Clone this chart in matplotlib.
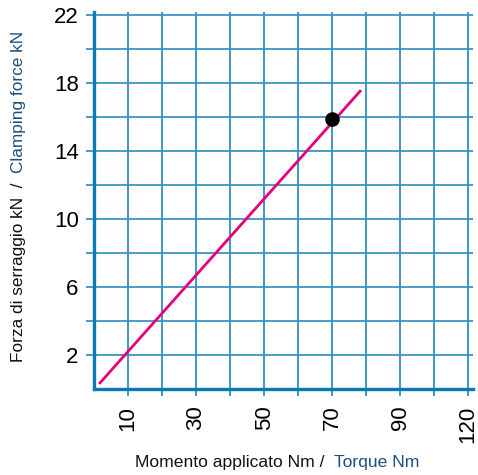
import numpy as np
import matplotlib
matplotlib.use("Agg")
import matplotlib.pyplot as plt
from matplotlib.ticker import FixedLocator

# data
line_torque = [1.5, 78.5]
line_force = [0.3, 17.6]
point_torque = [70]
point_force = [15.9]

x_tick_pos = [10, 30, 50, 70, 90, 110]
x_tick_lbl = ["10", "30", "50", "70", "90", "120"]
y_ticks = [2, 6, 10, 14, 18, 22]

BLUE = "#0a7ab5"
GRID_H = "#3d93c4"
MAGENTA = "#e5007d"
DARKBLUE = "#1d4f7c"

plt.rcParams["font.family"] = ["Liberation Sans", "DejaVu Sans"]

fig = plt.figure(figsize=(4.78, 4.75), dpi=100)
ax = fig.add_axes([94 / 478, 1 - 389 / 475, 379 / 478, 377 / 475])
ax.set_xlim(0, 111.4)
ax.set_ylim(0, 22.2)

# grid
ax.xaxis.set_major_locator(FixedLocator(x_tick_pos))
ax.xaxis.set_minor_locator(FixedLocator([20, 40, 60, 80, 100]))
ax.yaxis.set_major_locator(FixedLocator(y_ticks))
ax.yaxis.set_minor_locator(FixedLocator([4, 8, 12, 16, 20]))
ax.grid(True, which="both", axis="x", color=BLUE, lw=1.1)
ax.grid(True, which="both", axis="y", color=GRID_H, lw=1.3)
ax.set_axisbelow(True)

ax.set_xticklabels(x_tick_lbl, rotation=90, fontsize=16)
ax.set_yticklabels([str(v) for v in y_ticks], fontsize=16)
ax.tick_params(axis="x", which="both", length=5, width=1.1, color=BLUE, pad=7)
ax.tick_params(axis="y", which="both", length=6, width=1.3, color=GRID_H, pad=5)

for s in ["top", "right"]:
    ax.spines[s].set_visible(False)
for s in ["left", "bottom"]:
    ax.spines[s].set_color(BLUE)
    ax.spines[s].set_linewidth(2.4)

ax.plot(line_torque, line_force, color=MAGENTA, lw=2.0, solid_capstyle="butt", zorder=3)
ax.scatter(point_torque, point_force, s=90, color="black", zorder=4)

# axis titles, two colours, second part placed right after the first
tx = fig.text(0.282, 0.016, "Momento applicato Nm /  ", fontsize=12.6, color="#111111",
              ha="left", va="baseline")
ax.annotate("Torque Nm", xy=(1, 0), xycoords=tx, fontsize=12.6, color=DARKBLUE,
            ha="left", va="bottom", annotation_clip=False)

ty = fig.text(0.038, 1 - 362 / 475, "Forza di serraggio kN  /  ", fontsize=12.4,
              color="#111111", rotation=90, ha="center", va="bottom")
ax.annotate("Clamping force kN", xy=(0.5, 1), xycoords=ty, fontsize=12.4, color=DARKBLUE,
            rotation=90, ha="center", va="bottom", annotation_clip=False)

fig.savefig("out.png", dpi=100)
